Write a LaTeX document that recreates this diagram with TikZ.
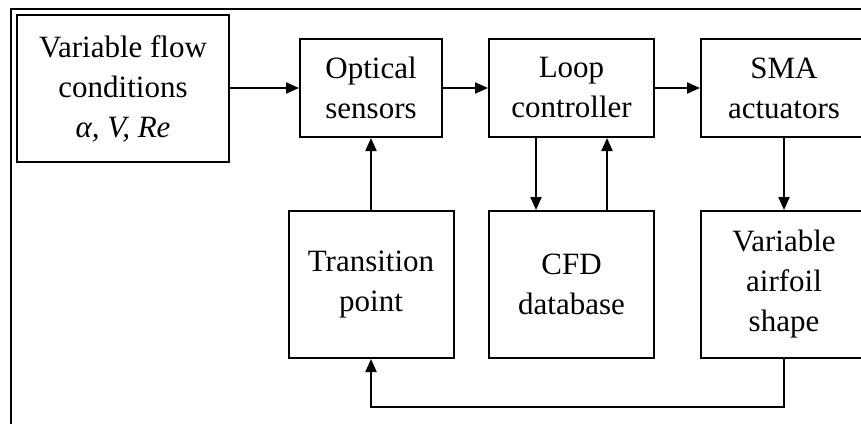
\documentclass[tikz,border=0pt]{standalone}
\usepackage{fontspec}
\setmainfont{Liberation Serif}
\usetikzlibrary{arrows.meta}
\begin{document}
\begin{tikzpicture}[x=1pt,y=-1pt,
  blk/.style={draw,line width=2pt,rectangle,inner sep=0pt,align=center,
    font=\fontsize{31}{40}\selectfont},
  arr/.style={line width=2pt,-{Triangle[length=13pt,width=11pt]}},
  ln/.style={line width=2pt}]
\useasboundingbox (0,0) rectangle (861,423);
\fill[white] (0,0) rectangle (861,423);
\clip (0,0) rectangle (861,423);
% outer frame (open to the right and bottom)
\draw[ln] (11,440) -- (11,9) -- (880,9);
% upper row
\node[blk,minimum width=212pt,minimum height=147pt] (flow) at (123,88.5)
  {Variable flow\\conditions\\{\itshape α, V, Re}};
\node[blk,minimum width=142pt,minimum height=98pt] (opt) at (371,88) {Optical\\sensors};
\node[blk,minimum width=165pt,minimum height=98pt] (loop) at (571.5,88) {Loop\\controller};
\node[blk,minimum width=166pt,minimum height=98pt] (sma) at (784,88) {SMA\\actuators};
% lower row
\node[blk,minimum width=165pt,minimum height=147pt] (trans) at (371,284.5) {Transition\\point};
\node[blk,minimum width=165pt,minimum height=147pt] (cfd) at (571.5,284.5) {CFD\\database};
\node[blk,minimum width=166pt,minimum height=147pt] (air) at (784,284.5) {Variable\\airfoil\\shape};
% forward chain
\draw[arr] (flow.east |- opt.west) -- (opt.west);
\draw[arr] (opt.east) -- (loop.west);
\draw[arr] (loop.east) -- (sma.west);
\draw[arr] (sma.south) -- (air.north);
\draw[arr] (trans.north) -- (opt.south);
% controller <-> database
\draw[arr] ([xshift=-35.5pt]loop.south) -- ([xshift=-35.5pt]cfd.north);
\draw[arr] ([xshift=35.5pt]cfd.north) -- ([xshift=35.5pt]loop.south);
% feedback from airfoil shape to transition point
\coordinate (fbR) at (784,407);
\coordinate (fbL) at (371,407);
\draw[arr] (air.south) -- (fbR) -- (fbL) -- (trans.south);
\end{tikzpicture}
\end{document}
